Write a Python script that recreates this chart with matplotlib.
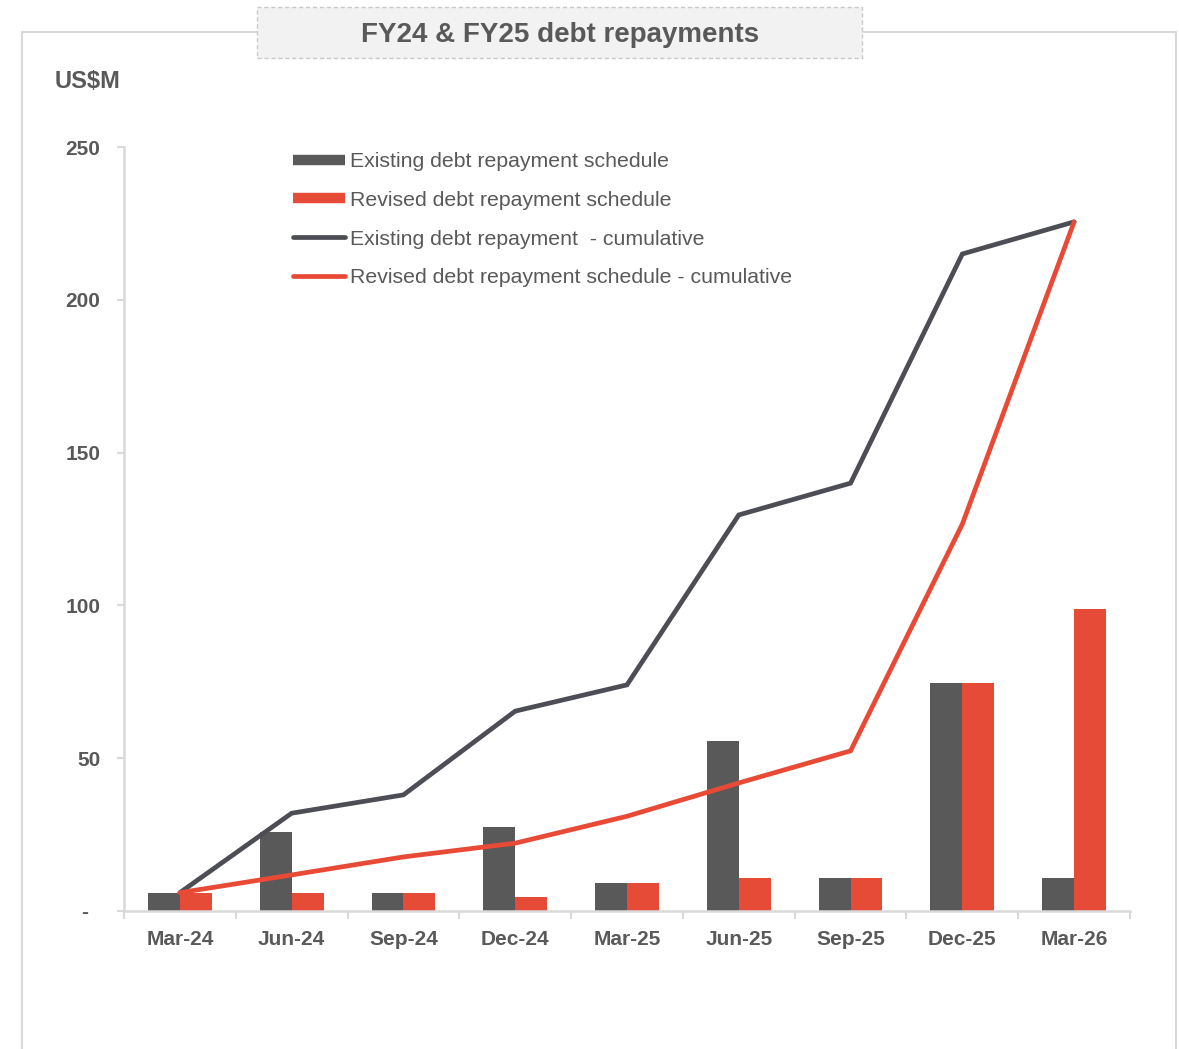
import matplotlib
matplotlib.use("Agg")
import matplotlib.pyplot as plt
from matplotlib.lines import Line2D
from matplotlib.patches import Rectangle
import numpy as np

plt.rcParams['font.family'] = ['Liberation Sans', 'DejaVu Sans']

categories = ["Mar-24", "Jun-24", "Sep-24", "Dec-24", "Mar-25", "Jun-25", "Sep-25", "Dec-25", "Mar-26"]
existing = [6, 26, 6, 27.5, 9, 55.5, 10.8, 74.6, 10.8]
revised = [6, 6, 6, 4.5, 9, 10.8, 10.8, 74.6, 98.8]
existing_cum = [6, 32, 38, 65.4, 74, 129.6, 140, 215, 225.5]
revised_cum = [6, 11.8, 17.7, 22.2, 31, 41.9, 52.4, 126.6, 225.5]
yticks = [0, 50, 100, 150, 200, 250]
ytick_labels = ["-  ", "50", "100", "150", "200", "250"]

labels = ["Existing debt repayment schedule", "Revised debt repayment schedule",
          "Existing debt repayment  - cumulative", "Revised debt repayment schedule - cumulative"]

C_DARK_BAR = "#595959"
C_RED_BAR = "#e64b38"
C_DARK_LINE = "#4d4d55"
C_RED_LINE = "#e84a36"
C_TEXT = "#595959"
C_AXIS = "#d9d9d9"

W, H = 1179, 1049
fig = plt.figure(figsize=(W / 100, H / 100), dpi=100)

# outer frame
fig.patches.append(Rectangle((22 / W, -0.05), (1176 - 22) / W, (H - 32) / H + 0.05,
                             transform=fig.transFigure, fill=False, edgecolor=C_AXIS, lw=1.5, zorder=0))
# title box
fig.patches.append(Rectangle((257 / W, 1 - 58 / H), (862 - 257) / W, (58 - 7) / H,
                             transform=fig.transFigure, facecolor="#f2f2f2", edgecolor="#c8c8c8",
                             lw=1.0, ls=(0, (3, 2)), zorder=1))
fig.text(560 / W, 1 - 35 / H, "FY24 & FY25 debt repayments", ha="center", va="center",
         fontsize=20, fontweight="bold", color=C_TEXT, zorder=2)
fig.text(55 / W, 1 - 81 / H, "US$M", ha="left", va="center", fontsize=17,
         fontweight="bold", color=C_TEXT)

left, right, bottom, top = 124 / W, 1130 / W, 1 - 911 / H, 1 - 147 / H
ax = fig.add_axes([left, bottom, right - left, top - bottom])

x = np.arange(len(categories))
bw = 0.285
ax.bar(x - bw / 2, existing, width=bw, color=C_DARK_BAR, zorder=2)
ax.bar(x + bw / 2, revised, width=bw, color=C_RED_BAR, zorder=2)
ax.plot(x, existing_cum, color=C_DARK_LINE, lw=3.4, solid_capstyle="round", solid_joinstyle="miter", zorder=3)
ax.plot(x, revised_cum, color=C_RED_LINE, lw=3.4, solid_capstyle="round", solid_joinstyle="miter", zorder=4)

ax.set_xlim(-0.5, len(categories) - 0.5)
ax.set_ylim(0, 250)
for s in ["top", "right"]:
    ax.spines[s].set_visible(False)
for s in ["left", "bottom"]:
    ax.spines[s].set_color(C_AXIS)
    ax.spines[s].set_linewidth(1.8)

ax.set_yticks(yticks)
ax.set_yticklabels(ytick_labels)
ax.tick_params(axis="y", length=5, width=1.5, color=C_AXIS, pad=12, labelsize=15, labelcolor=C_TEXT)
ax.set_xticks(x)
ax.set_xticklabels(categories)
ax.tick_params(axis="x", which="major", length=0, pad=14, labelsize=15, labelcolor=C_TEXT)
ax.set_xticks(np.arange(len(categories) + 1) - 0.5, minor=True)
ax.tick_params(axis="x", which="minor", length=6, width=1.5, color=C_AXIS)
for lab in ax.get_xticklabels() + ax.get_yticklabels():
    lab.set_fontweight("bold")

handles = [
    Line2D([], [], color=C_DARK_BAR, lw=7.5, solid_capstyle="butt"),
    Line2D([], [], color=C_RED_BAR, lw=7.5, solid_capstyle="butt"),
    Line2D([], [], color=C_DARK_LINE, lw=3.4, solid_capstyle="round"),
    Line2D([], [], color=C_RED_LINE, lw=3.4, solid_capstyle="round"),
]
leg = fig.legend(handles, labels, loc="upper left", bbox_to_anchor=(293 / W, 1 - 152 / H),
                 frameon=False, fontsize=15.3, handlelength=2.45, handletextpad=0.22,
                 labelspacing=0.93, borderpad=0, borderaxespad=0)
for t in leg.get_texts():
    t.set_color(C_TEXT)

fig.savefig("out.png", dpi=100)
